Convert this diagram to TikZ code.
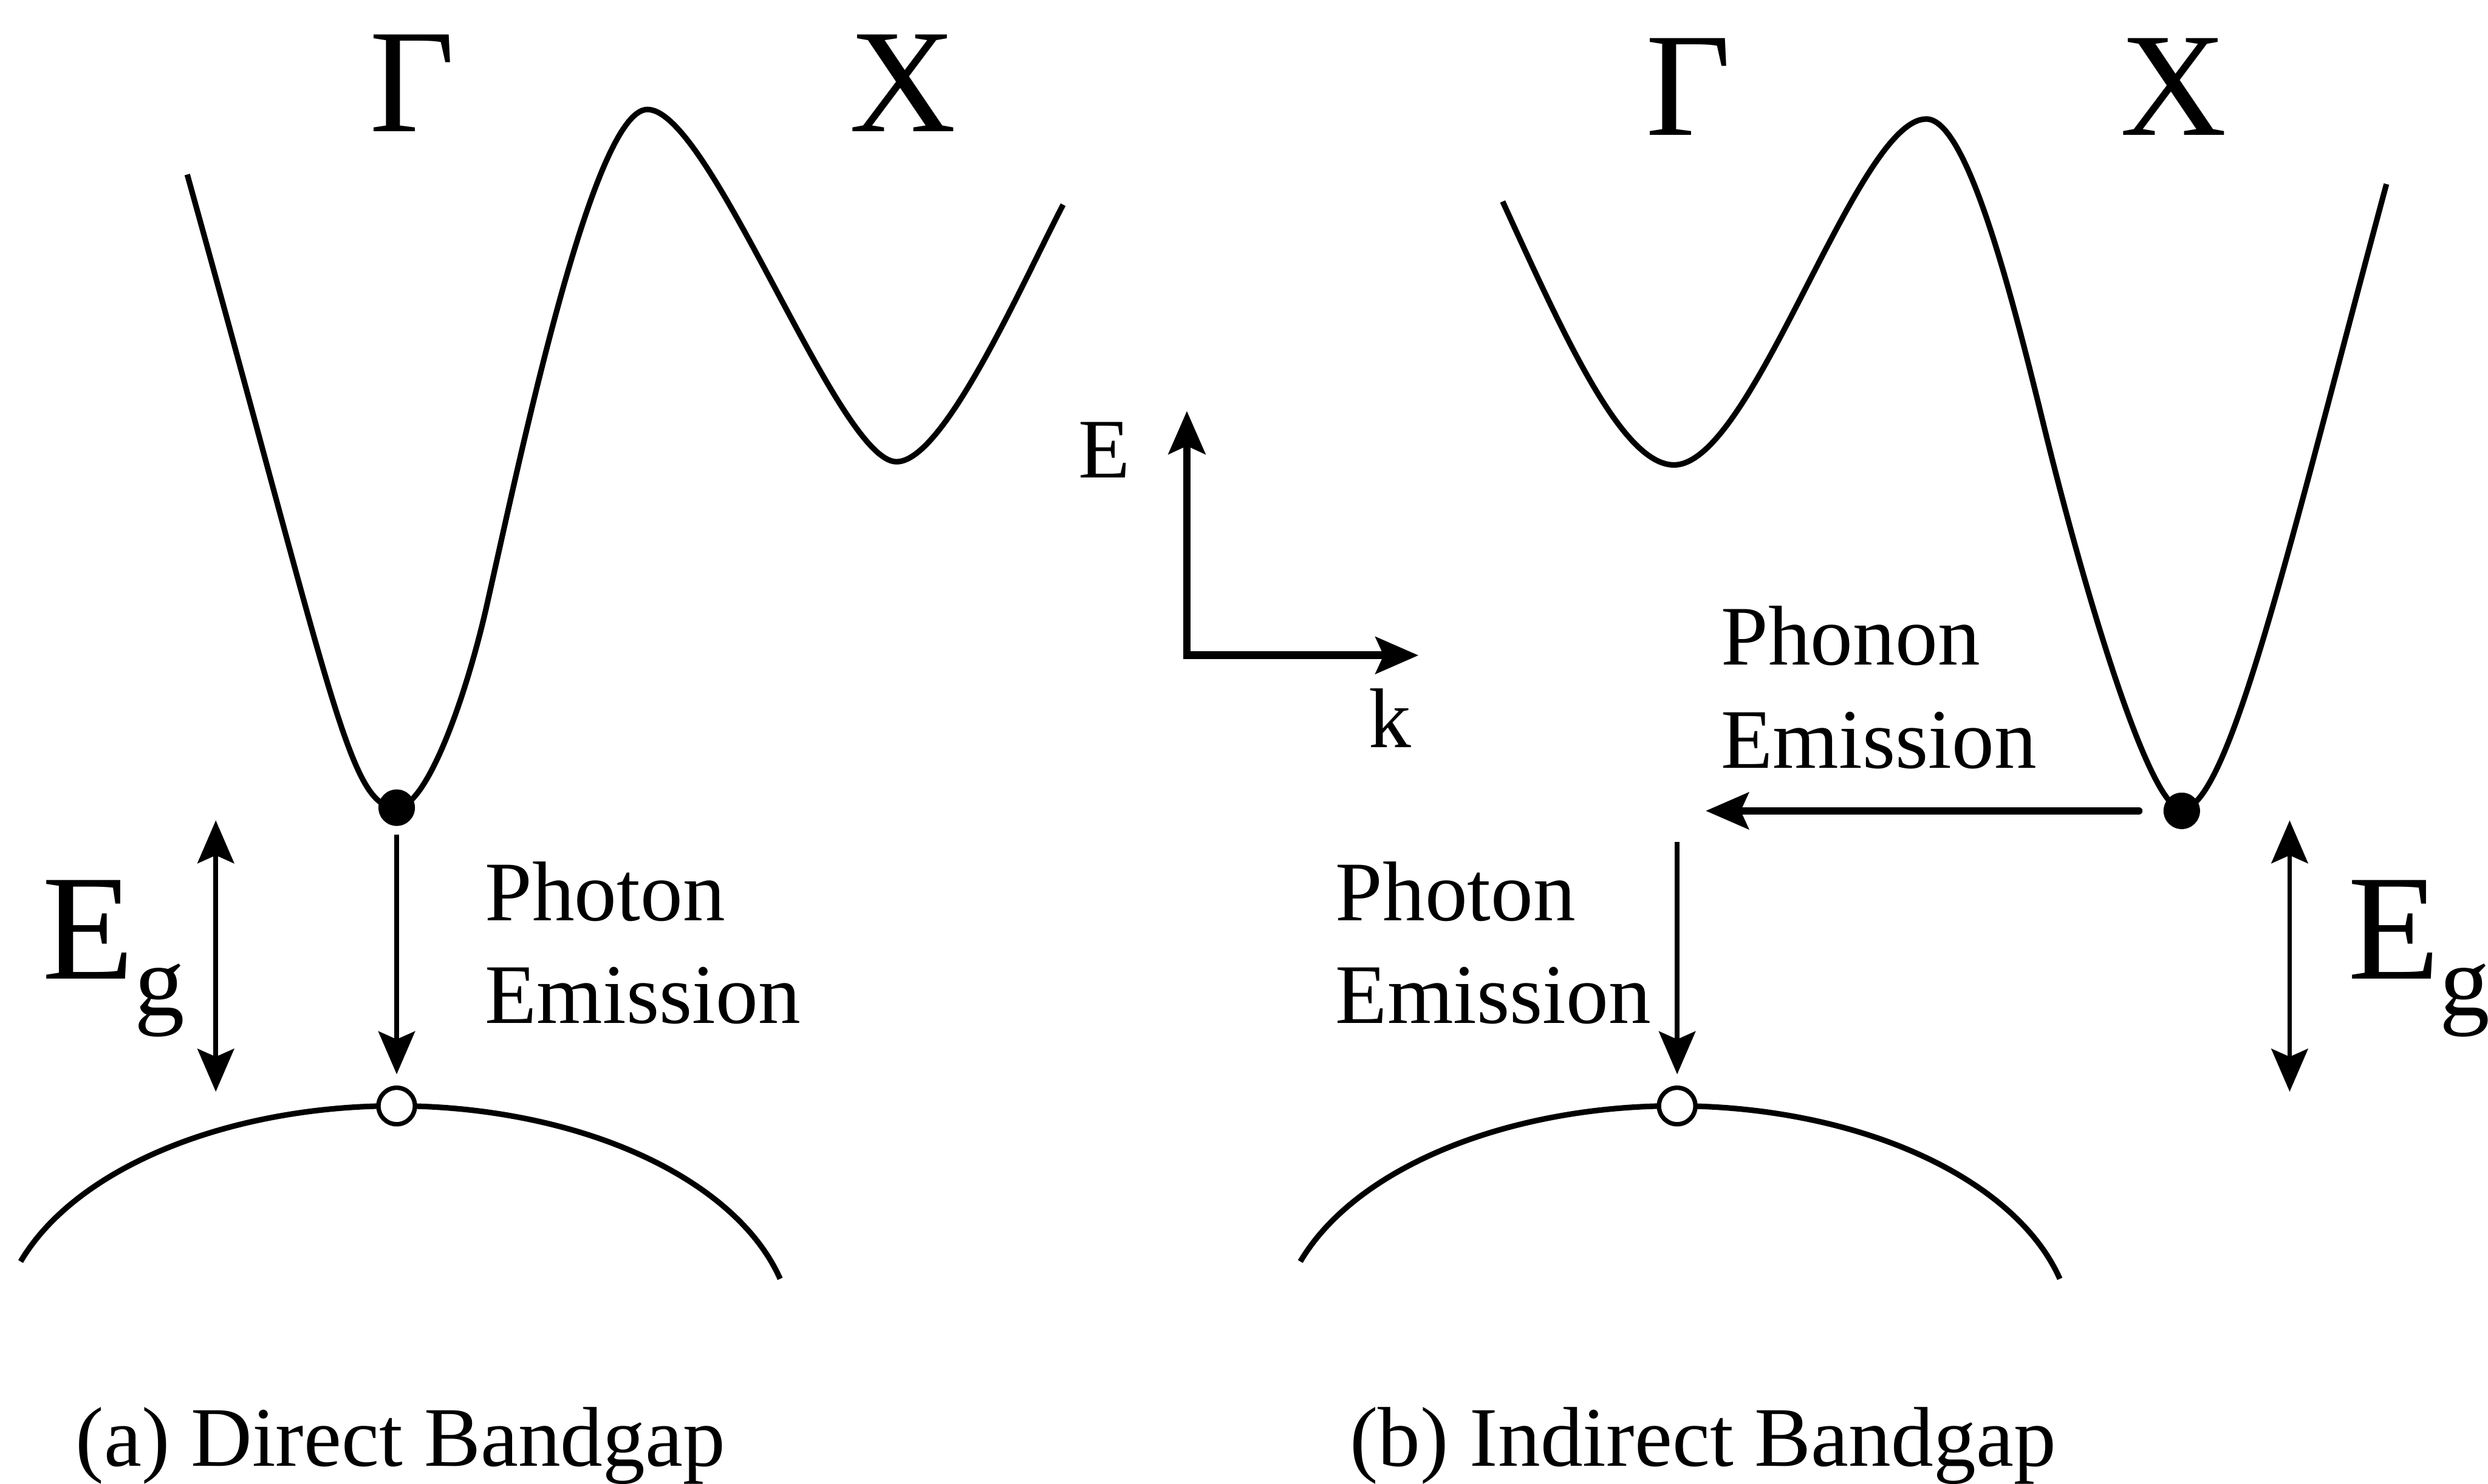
\documentclass[tikz,border=0pt]{standalone}
\usepackage{fontspec}
\setmainfont{Liberation Serif}
\usetikzlibrary{arrows.meta}
\newcommand{\txtfont}{\fontsize{15.2}{18.5}\selectfont}
\newcommand{\symfont}{\fontsize{26.5}{30}\selectfont}
\newcommand{\gapfont}{\fontsize{27}{30}\selectfont}
\newcommand{\Eg}{E\raisebox{-6.5pt}{\fontsize{18}{18}\selectfont g}}

\begin{document}
\begin{tikzpicture}[x=0.1mm, y=-0.1mm,
  >={Stealth[length=2.7mm, width=2.3mm, inset=0.5mm]},
  every node/.style={font=\txtfont, inner sep=0pt},
  band/.style={line width=1pt, line join=round},
  elec/.style={circle, fill=black, minimum size=2.3mm, outer sep=0pt},
  hole/.style={circle, draw=black, line width=0.8pt, fill=white, minimum size=2.3mm, outer sep=0pt},
  photon/.style={line width=0.85pt, ->, shorten <=0.55mm, shorten >=0.85mm},
  phonon/.style={line width=1.3pt, line cap=round, ->, shorten <=1.55mm},
  gap/.style={line width=0.85pt, <->},
  axis/.style={line width=1.4pt, <->}
]
\useasboundingbox (0,0) rectangle (1568,935);

% (a) direct bandgap
\draw[band] (118,110) .. controls (210,440) and (220,509) .. (250,509)
  .. controls (268,509) and (292,445) .. (306,385)
  .. controls (326,297) and (373,69) .. (408,69)
  .. controls (448,69) and (528,291) .. (565,291)
  .. controls (595,291) and (644,179) .. (670,129);
\draw[band] (13,795) arc[start angle=198.9, end angle=345.6, x radius=250, y radius=145];

\node[anchor=base, font=\symfont] (gamL) at (260,83) {Γ};
\node[anchor=base, font=\symfont] (xL) at (569,83) {X};
\node[elec] (eL) at (250,509) {};
\node[hole] (hL) at (250,697) {};
\draw[photon] (eL) -- (hL);
\node[anchor=base west, align=left] (phoL) at (305,645) {Photon\\Emission};
\coordinate (gapLtop) at (136,517);
\coordinate (gapLbot) at (136,688);
\draw[gap] (gapLtop) -- (gapLbot);
\node[anchor=base west, font=\gapfont] (egL) at (26,617) {\Eg};
\node[anchor=base west] (capA) at (47,924) {(a) Direct Bandgap};

% E-k axes
\coordinate (origin) at (748,413);
\coordinate (Etip) at (748,259);
\coordinate (ktip) at (894,413);
\draw[axis] (Etip) -- (origin) -- (ktip);
\node[anchor=base east] (Elab) at (713,301) {E};
\node[anchor=base] (klab) at (876,471) {k};

% (b) indirect bandgap
\draw[band] (947,127) .. controls (985,210) and (1022,293) .. (1055,293)
  .. controls (1105,293) and (1170,75) .. (1214,75)
  .. controls (1239,75) and (1266,178) .. (1288,268)
  .. controls (1315,378) and (1355,510) .. (1375,510)
  .. controls (1405,510) and (1444.6,336) .. (1504,116);
\draw[band] (819.5,795) arc[start angle=198.9, end angle=345.6, x radius=250, y radius=145];

\node[anchor=base, font=\symfont] (gamR) at (1064,85) {Γ};
\node[anchor=base, font=\symfont] (xR) at (1370,85) {X};
\node[elec] (eR) at (1375,511) {};
\node[hole] (hR) at (1057,697) {};
\coordinate (phEnd) at (1075,511);
\draw[phonon] (eR) -- (phEnd);
\node[anchor=base west, align=left] (phnR) at (1084,484) {Phonon\\Emission};
\coordinate (photR) at (1057,525);
\draw[photon] (photR) -- (hR);
\node[anchor=base west, align=left] (phoR) at (841,645) {Photon\\Emission};
\coordinate (gapRtop) at (1443,517);
\coordinate (gapRbot) at (1443,688);
\draw[gap] (gapRtop) -- (gapRbot);
\node[anchor=base west, font=\gapfont] (egR) at (1479,617) {\Eg};
\node[anchor=base west] (capB) at (850,924) {(b) Indirect Bandgap};
\end{tikzpicture}
\end{document}
